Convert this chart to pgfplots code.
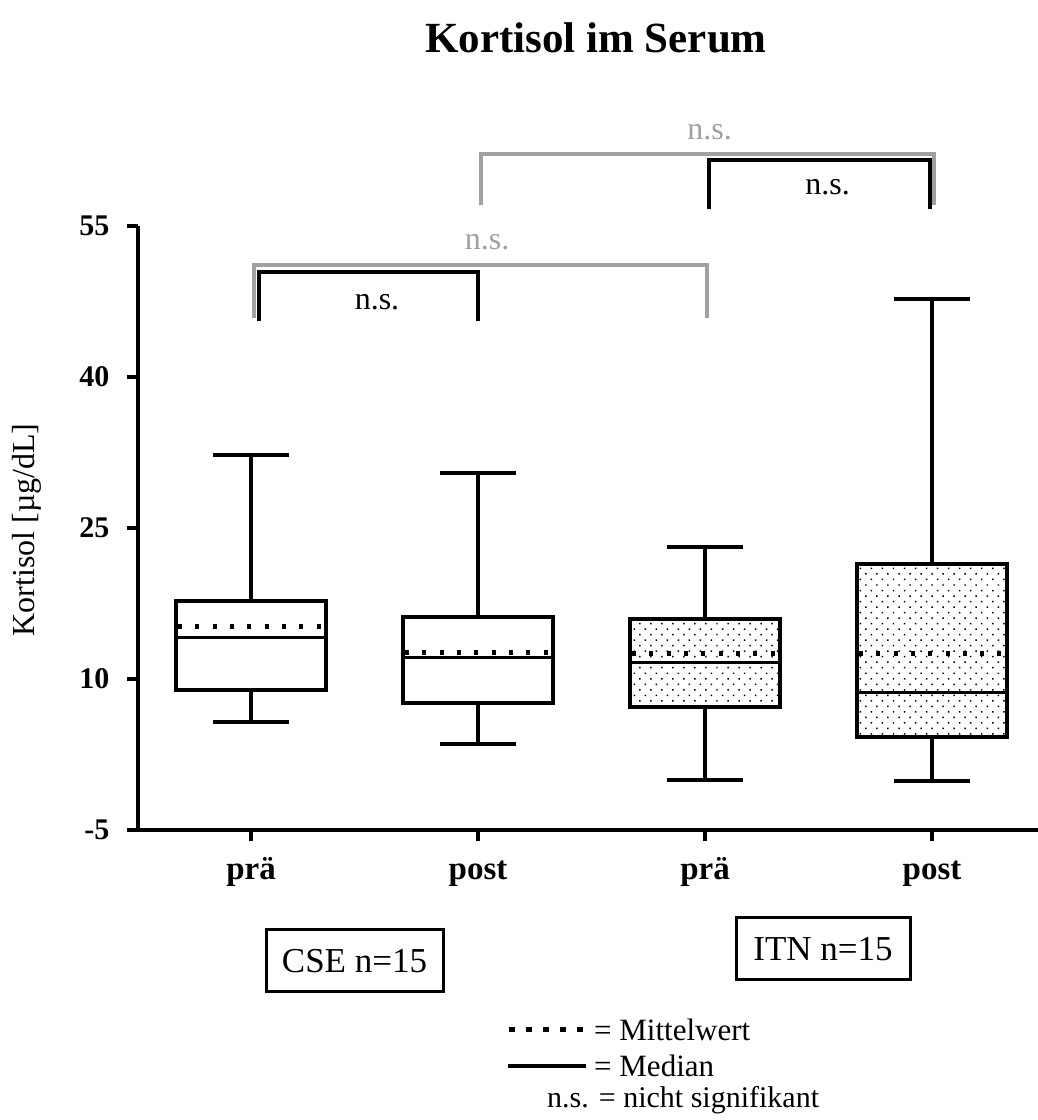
\documentclass[border=0pt]{standalone}
\usepackage{fontspec}
\setmainfont{Liberation Serif}
\usepackage{pgfplots}
\pgfplotsset{compat=1.18}
\usepgfplotslibrary{statistics}
\usetikzlibrary{patterns.meta}
\definecolor{nsgray}{RGB}{160,160,160}
\tikzset{
  dotfill/.style={pattern={Dots[angle=45, distance=7.8pt, radius=1.05pt]}, pattern color=black},
  meanline/.style={black, line width=5pt, dash pattern=on 4pt off 13.3pt, dash phase=-2pt},
  blackbr/.style={black, line width=4pt},
  graybr/.style={nsgray, line width=3.5pt},
}
\begin{document}
\begin{tikzpicture}[x=1pt,y=1pt]
\path[use as bounding box] (0,0) rectangle (1038,1120);
\begin{axis}[
  at={(138pt,290pt)}, anchor=south west,
  scale only axis, width=900pt, height=604pt,
  xmin=-0.498, xmax=3.467, ymin=-5, ymax=55,
  axis x line*=bottom, axis y line*=left,
  axis line style={line width=3.5pt},
  clip=false,
  xtick={0,1,2,3}, xticklabels={prä,post,prä,post},
  ytick={-5,10,25,40,55}, yticklabels={-5,10,25,40,55},
  tick align=outside, major tick length=11pt,
  every tick/.style={black, line width=3.5pt},
  yticklabel style={font=\fontsize{30}{30}\selectfont\bfseries, anchor=east, xshift=-14pt},
  xticklabel style={font=\fontsize{33}{33}\selectfont\bfseries, anchor=base, yshift=-38pt},
  boxplot/draw direction=y,
  boxplot/box extend=0.66,
  boxplot/whisker extend=0.335,
]
% CSE prae
\addplot[black, line width=4pt, boxplot prepared={draw position=0,
  lower whisker=5.76, lower quartile=8.9, median=14.1,
  upper quartile=17.76, upper whisker=32.25},
  boxplot/every median/.style={line width=3pt}] coordinates {};
% CSE post
\addplot[black, line width=4pt, boxplot prepared={draw position=1,
  lower whisker=3.55, lower quartile=7.6, median=12.1,
  upper quartile=16.2, upper whisker=30.5},
  boxplot/every median/.style={line width=3pt}] coordinates {};
% ITN prae
\addplot[black, line width=4pt, boxplot prepared={draw position=2,
  lower whisker=0.0, lower quartile=7.25, median=11.6,
  upper quartile=16.0, upper whisker=23.1},
  boxplot/every box/.style={dotfill},
  boxplot/every median/.style={line width=3pt}] coordinates {};
% ITN post
\addplot[black, line width=4pt, boxplot prepared={draw position=3,
  lower whisker=-0.1, lower quartile=4.2, median=8.66,
  upper quartile=21.4, upper whisker=47.7},
  boxplot/every box/.style={dotfill},
  boxplot/every median/.style={line width=3pt}] coordinates {};
% means
\addplot[meanline] coordinates {(-0.33,15.26) (0.33,15.26)};
\addplot[meanline] coordinates {(0.67,12.6) (1.33,12.6)};
\addplot[meanline] coordinates {(1.67,12.5) (2.33,12.5)};
\addplot[meanline] coordinates {(2.67,12.5) (3.33,12.5)};
% brackets
\addplot[graybr] coordinates {(0.013,45.86) (0.013,51.12) (2.009,51.12) (2.009,45.86)};
\addplot[blackbr] coordinates {(0.035,45.56) (0.035,50.46) (1.0,50.46) (1.0,45.56)};
\addplot[graybr] coordinates {(1.013,57.08) (1.013,62.15) (3.009,62.15) (3.009,57.08)};
\addplot[blackbr] coordinates {(2.018,56.65) (2.018,61.55) (2.991,61.55) (2.991,56.65)};
\node[font=\fontsize{32}{32}\selectfont] at (axis cs:0.555,47.4) {n.s.};
\node[font=\fontsize{32}{32}\selectfont, text=nsgray] at (axis cs:1.04,53.4) {n.s.};
\node[font=\fontsize{32}{32}\selectfont, text=nsgray] at (axis cs:2.02,64.3) {n.s.};
\node[font=\fontsize{32}{32}\selectfont] at (axis cs:2.54,58.9) {n.s.};
\end{axis}
% title
\node[font=\fontsize{43}{43}\selectfont\bfseries] at (596,1082) {Kortisol im Serum};
% y label
\node[rotate=90, font=\fontsize{32}{32}\selectfont] at (27,590) {Kortisol [µg/dL]};
% group boxes
\node[draw, line width=3pt, minimum width=177pt, minimum height=62pt, inner sep=0pt,
  font=\fontsize{35}{35}\selectfont] at (354.5,159) {CSE n=15};
\node[draw, line width=3pt, minimum width=174pt, minimum height=62pt, inner sep=0pt,
  font=\fontsize{35}{35}\selectfont] at (823,171) {ITN n=15};
% legend
\draw[black, line width=5pt, dash pattern=on 5.5pt off 11.5pt] (509,90) -- (584,90);
\draw[black, line width=3.5pt] (508,54) -- (586,54);
\node[anchor=west, font=\fontsize{31}{31}\selectfont, inner sep=0pt] at (594,90) {= Mittelwert};
\node[anchor=west, font=\fontsize{31}{31}\selectfont, inner sep=0pt] at (594,54) {= Median};
\node[anchor=west, font=\fontsize{30}{30}\selectfont, inner sep=0pt] at (547,20) {n.s. = nicht signifikant};
\end{tikzpicture}
\end{document}
